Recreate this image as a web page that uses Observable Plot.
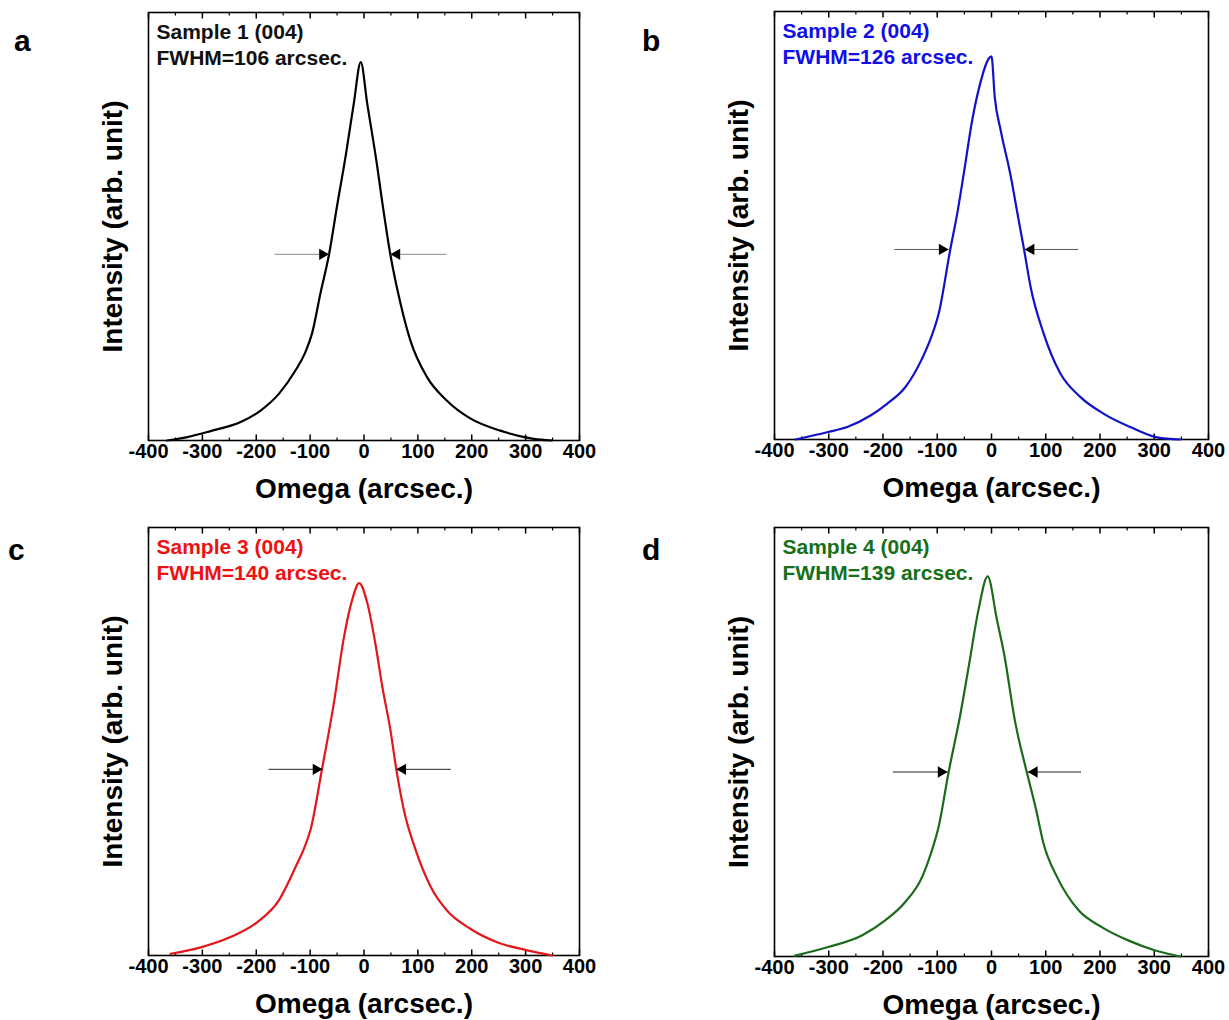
<!DOCTYPE html>
<html><head><meta charset="utf-8">
<script src="https://cdn.jsdelivr.net/npm/d3@7"></script>
<script src="https://cdn.jsdelivr.net/npm/@observablehq/plot@0.6"></script>
<style>
body{margin:0;background:#fff;font-family:"Liberation Sans",Arial,sans-serif;}
#wrap{position:relative;width:1229px;height:1020px;overflow:hidden;}
.panel{position:absolute;}
.panel svg{font-family:"Liberation Sans",Arial,sans-serif;}
.letter{position:absolute;font:bold 30px "Liberation Sans",Arial,sans-serif;line-height:1;color:#000;}
</style></head><body><div id="wrap"></div>
<script>
// ---- data (normalized intensity, arb. unit) ----
const xTicks = [-400,-300,-200,-100,0,100,200,300,400];
const xMinorTicks = [-350,-250,-150,-50,50,150,250,350];

const omegaA = [-365,-328,-285,-229,-192,-158,-127,-110,-96,-81,-65,-50,-34,-19,-6,6,24,34,49,68,86,117,154,198,253,315,349];
const intensityA = [0,0.008,0.022,0.043,0.070,0.109,0.164,0.203,0.252,0.343,0.434,0.548,0.665,0.787,0.884,0.787,0.645,0.556,0.434,0.319,0.234,0.148,0.093,0.051,0.023,0.004,0];

const omegaB = [-361,-303,-266,-223,-192,-159,-128,-112,-97,-76,-63,-51,-35,-23,0,6,17,35,50,60,72,96,127,164,207,256,305,348];
const intensityB = [0,0.017,0.029,0.056,0.084,0.122,0.189,0.236,0.296,0.444,0.529,0.622,0.750,0.821,0.895,0.80,0.722,0.618,0.513,0.444,0.357,0.248,0.154,0.099,0.060,0.029,0.005,0];

const omegaC = [-359,-303,-248,-198,-158,-124,-111,-99,-78,-56,-37,-22,-9,6,22,34,49,60,74,96,124,154,198,247,303,349];
const intensityC = [0.004,0.019,0.043,0.078,0.129,0.215,0.251,0.295,0.435,0.589,0.745,0.831,0.870,0.824,0.722,0.628,0.527,0.435,0.340,0.246,0.160,0.105,0.062,0.031,0.012,0];

const omegaD = [-362,-301,-239,-196,-159,-128,-112,-97,-79,-57,-42,-24,-7,10,23,44,65,81,96,121,161,204,253,302,348];
const intensityD = [0.002,0.022,0.049,0.084,0.127,0.185,0.239,0.305,0.430,0.567,0.676,0.808,0.886,0.785,0.707,0.544,0.430,0.349,0.263,0.185,0.107,0.068,0.037,0.014,0];

const sampleLabels = ["Sample 1 (004)","Sample 2 (004)","Sample 3 (004)","Sample 4 (004)"];
const fwhmLabels = ["FWHM=106 arcsec.","FWHM=126 arcsec.","FWHM=140 arcsec.","FWHM=139 arcsec."];
const panelLetters = ["a","b","c","d"];
// FWHM arrows: [leftTail, leftTip, rightTip, rightTail], level
const arrowXA = [-166,-65,49,153], arrowYA = 0.435;
const arrowXB = [-179,-79,61,160], arrowYB = 0.444;
const arrowXC = [-177,-77,60,161], arrowYC = 0.435;
const arrowXD = [-182,-81,67,165], arrowYD = 0.430;

const lineColors = ["#000000","#1212c8","#e3161b","#1b6b1b"];
const textColors = ["#111111","#1010e6","#ee1111","#177017"];
const arrowColors = ["#8a8a8a","#555555","#222222","#222222"];

// ---- layout ----
const panels = [
  {om: omegaA, it: intensityA, ax: arrowXA, ay: arrowYA, left:0,   top:0,   width:614, height:512, mL:148, mR:35, mT:12, mB:72, lx:14,  ly:26},
  {om: omegaB, it: intensityB, ax: arrowXB, ay: arrowYB, left:614, top:0,   width:615, height:512, mL:160, mR:21, mT:11, mB:73, lx:642, ly:26},
  {om: omegaC, it: intensityC, ax: arrowXC, ay: arrowYC, left:0,   top:512, width:614, height:508, mL:148, mR:35, mT:15, mB:65, lx:8,   ly:535},
  {om: omegaD, it: intensityD, ax: arrowXD, ay: arrowYD, left:614, top:512, width:615, height:508, mL:160, mR:21, mT:15, mB:64, lx:642, ly:535}
];

const tickShape = {draw(context, l) { context.moveTo(0, 0); context.lineTo(0, -l); }};

const wrap = document.getElementById("wrap");
panels.forEach((p, i) => {
  const data = p.om.map((o, k) => ({omega: o, intensity: p.it[k]}));
  const leftArrow = [{x1: p.ax[0], x2: p.ax[1], y: p.ay}];
  const rightArrow = [{x1: p.ax[3], x2: p.ax[2], y: p.ay}];
  const arrows = leftArrow.concat(rightArrow);
  const chart = Plot.plot({
    width: p.width, height: p.height,
    marginLeft: p.mL, marginRight: p.mR, marginTop: p.mT, marginBottom: p.mB,
    style: {fontFamily: "'Liberation Sans', Arial, sans-serif", background: "transparent"},
    x: {domain: [-400, 400]},
    y: {domain: [0, 1], axis: null},
    marks: [
      Plot.axisX({ticks: xTicks, tickSize: 0, tickPadding: 3, fontSize: 20, fontWeight: "bold", tickFormat: d => String(d), label: null, fill: "#000"}),
      // inward ticks, bottom and top
      Plot.vector(xTicks, {x: d => d, frameAnchor: "bottom", anchor: "start", length: 6, shape: tickShape, stroke: "#000", strokeWidth: 1.5, strokeLinecap: "butt"}),
      Plot.vector(xMinorTicks, {x: d => d, frameAnchor: "bottom", anchor: "start", length: 3, shape: tickShape, stroke: "#000", strokeWidth: 1.2, strokeLinecap: "butt"}),
      Plot.vector(xTicks, {x: d => d, frameAnchor: "top", anchor: "start", rotate: 180, length: 6, shape: tickShape, stroke: "#000", strokeWidth: 1.5, strokeLinecap: "butt"}),
      Plot.vector(xMinorTicks, {x: d => d, frameAnchor: "top", anchor: "start", rotate: 180, length: 3, shape: tickShape, stroke: "#000", strokeWidth: 1.2, strokeLinecap: "butt"}),
      Plot.frame({stroke: "#000", strokeWidth: 1.6}),
      Plot.line(data, {x: "omega", y: "intensity", stroke: lineColors[i], strokeWidth: 2.2, curve: "monotone-x"}),
      Plot.link(arrows, {x1: "x1", x2: "x2", y1: "y", y2: "y", stroke: arrowColors[i], strokeWidth: 1}),
      Plot.dot(leftArrow, {x: "x2", y: "y", symbol: "triangle", r: 4.2, fill: "#000", stroke: null, rotate: 90, dx: -6.5}),
      Plot.dot(rightArrow, {x: "x2", y: "y", symbol: "triangle", r: 4.2, fill: "#000", stroke: null, rotate: -90, dx: 6.5}),
      Plot.text([sampleLabels[i] + "\n" + fwhmLabels[i]], {text: d => d, frameAnchor: "top-left", textAnchor: "start", lineAnchor: "top",
        dx: 8, dy: 8, lineHeight: 1.25, fontSize: 21, fontWeight: "bold", fill: textColors[i]}),
      Plot.text(["Omega (arcsec.)"], {text: d => d, frameAnchor: "bottom", lineAnchor: "middle", dy: 49, fontSize: 28, fontWeight: "bold", fill: "#000"}),
      Plot.text(["Intensity (arb. unit)"], {text: d => d, frameAnchor: "left", rotate: -90, lineAnchor: "middle", textAnchor: "middle", dx: -35, fontSize: 28, fontWeight: "bold", fill: "#000"})
    ]
  });
  const div = document.createElement("div");
  div.className = "panel";
  div.style.left = p.left + "px";
  div.style.top = p.top + "px";
  div.appendChild(chart);
  wrap.appendChild(div);
  const lt = document.createElement("div");
  lt.className = "letter";
  lt.style.left = p.lx + "px";
  lt.style.top = p.ly + "px";
  lt.textContent = panelLetters[i];
  wrap.appendChild(lt);
});
</script>
</body></html>
